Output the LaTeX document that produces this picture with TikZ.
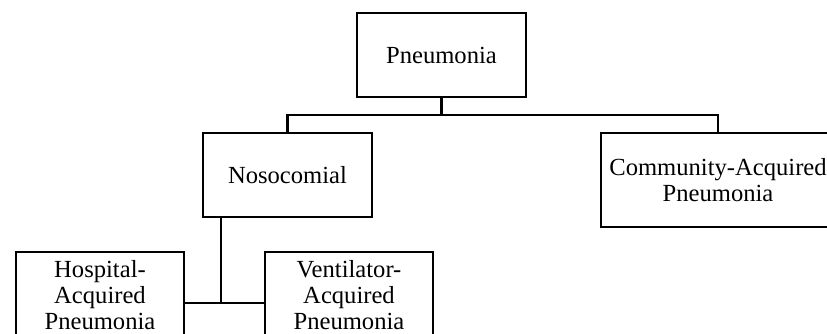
\documentclass[tikz,border=0pt]{standalone}
\usepackage{fontspec}
\setmainfont{Liberation Serif}
\begin{document}
\begin{tikzpicture}[x=1pt,y=1pt,
  box/.style={draw=black, line width=2.4pt, inner sep=0pt, align=center,
    font=\fontsize{24.6}{26}\selectfont, fill=white},
  conn/.style={draw=black, line width=2.4pt}]
\useasboundingbox (0,0) rectangle (827,334);
\clip (0,0) rectangle (827,334);
\node[box, minimum width=169pt, minimum height=84pt] (pn) at (441.5,279) {Pneumonia};
\node[box, minimum width=169pt, minimum height=84pt] (noso) at (287.5,159) {Nosocomial};
\node[box, minimum width=234pt, minimum height=94pt] (comm) at (718,154) {Community-Acquired\\Pneumonia};
\node[box, minimum width=168pt, minimum height=86pt] (hosp) at (100,39) {Hospital-\\Acquired\\Pneumonia};
\node[box, minimum width=168pt, minimum height=86pt] (vent) at (349,39) {Ventilator-\\Acquired\\Pneumonia};
\coordinate (bar) at (441.5,219);
\coordinate (j) at (221,31);
\draw[conn] (pn.south) -- (bar);
\draw[conn] (noso.north) |- (bar) -| (comm.north);
\draw[conn] (noso.south -| j) -- (j);
\draw[conn] (hosp.east |- j) -- (vent.west |- j);
\end{tikzpicture}
\end{document}
